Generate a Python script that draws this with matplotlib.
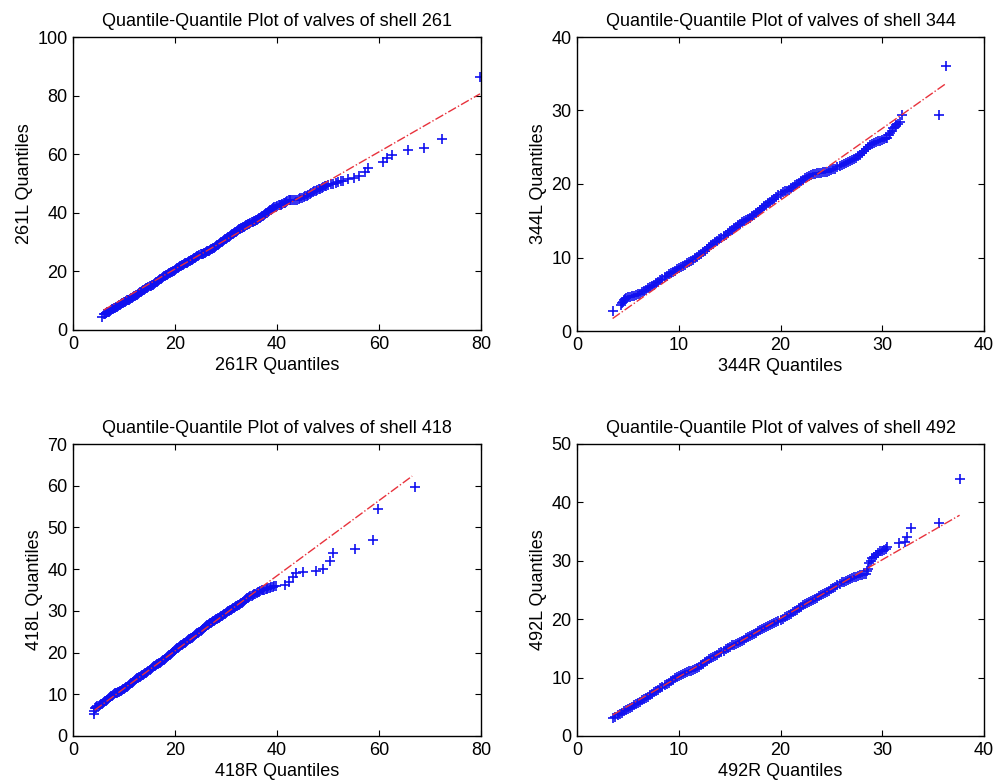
import numpy as np
import matplotlib
matplotlib.use("Agg")
import matplotlib.pyplot as plt

plt.rcParams['font.family'] = ['Liberation Sans', 'DejaVu Sans']

# quantile pairs (R quantile, L quantile), one list per shell

q261 = [(5.6, 4.3), (6.0, 5.3), (6.2, 5.6), (6.4, 5.8), (6.6, 6.0), (6.8, 6.1), (7.0, 6.3),
        (7.2, 6.6), (7.4, 6.8), (7.6, 7.0), (7.8, 7.2), (8.0, 7.4), (8.2, 7.6), (8.4, 7.8),
        (8.6, 8.0), (8.8, 8.2), (9.0, 8.4), (9.2, 8.7), (9.4, 8.9), (9.6, 9.1), (9.8, 9.3),
        (10.0, 9.5), (10.2, 9.7), (10.4, 9.9), (10.6, 10.1), (10.8, 10.2), (11.0, 10.4),
        (11.2, 10.6), (11.4, 10.8), (11.6, 11.0), (11.8, 11.2), (12.0, 11.5), (12.2, 11.7),
        (12.4, 11.9), (12.6, 12.1), (12.8, 12.4), (13.0, 12.6), (13.2, 12.8), (13.4, 13.0),
        (13.6, 13.2), (13.8, 13.5), (14.0, 13.7), (14.2, 14.0), (14.4, 14.2), (14.6, 14.4),
        (14.8, 14.7), (15.0, 14.9), (15.2, 15.1), (15.4, 15.3), (15.6, 15.5), (15.8, 15.8),
        (16.0, 16.0), (16.2, 16.3), (16.4, 16.5), (16.6, 16.8), (16.8, 17.0), (17.0, 17.3),
        (17.2, 17.5), (17.4, 17.8), (17.6, 18.0), (17.8, 18.3), (18.0, 18.5), (18.2, 18.8),
        (18.4, 18.9), (18.6, 19.1), (18.8, 19.3), (19.0, 19.5), (19.2, 19.7), (19.4, 19.9),
        (19.6, 20.1), (19.8, 20.3), (20.0, 20.5), (20.2, 20.8), (20.4, 21.0), (20.6, 21.2),
        (20.8, 21.4), (21.0, 21.7), (21.2, 21.9), (21.4, 22.1), (21.6, 22.3), (21.8, 22.5),
        (22.0, 22.7), (22.2, 22.9), (22.4, 23.0), (22.6, 23.2), (22.8, 23.4), (23.0, 23.6),
        (23.2, 23.8), (23.4, 24.0), (23.6, 24.3), (23.8, 24.5), (24.0, 24.7), (24.2, 25.0),
        (24.4, 25.2), (24.6, 25.4), (24.8, 25.6), (25.0, 25.8), (25.2, 25.9), (25.4, 26.1),
        (25.6, 26.2), (25.8, 26.4), (26.0, 26.6), (26.2, 26.8), (26.4, 26.9), (26.6, 27.1),
        (26.8, 27.3), (27.0, 27.5), (27.2, 27.7), (27.4, 27.9), (27.6, 28.1), (27.8, 28.4),
        (28.0, 28.6), (28.2, 28.9), (28.4, 29.1), (28.6, 29.4), (28.8, 29.6), (29.0, 29.9),
        (29.2, 30.1), (29.4, 30.4), (29.6, 30.6), (29.8, 30.9), (30.0, 31.1), (30.2, 31.4),
        (30.4, 31.6), (30.6, 31.9), (30.8, 32.1), (31.0, 32.4), (31.2, 32.6), (31.4, 32.9),
        (31.6, 33.1), (31.8, 33.4), (32.0, 33.6), (32.2, 33.9), (32.4, 34.1), (32.6, 34.4),
        (32.8, 34.6), (33.0, 34.8), (33.2, 34.9), (33.4, 35.1), (33.6, 35.3), (33.8, 35.5),
        (34.0, 35.7), (34.2, 35.9), (34.4, 36.1), (34.6, 36.3), (34.8, 36.5), (35.0, 36.7),
        (35.2, 36.9), (35.4, 37.1), (35.6, 37.3), (35.8, 37.5), (36.0, 37.7), (36.2, 37.9),
        (36.4, 38.1), (36.6, 38.3), (36.8, 38.5), (37.0, 38.8), (37.2, 39.0), (37.4, 39.3),
        (37.6, 39.5), (37.8, 39.8), (38.0, 40.0), (38.2, 40.3), (38.4, 40.5), (38.6, 40.8),
        (38.8, 41.0), (39.0, 41.3), (39.2, 41.6), (39.5, 41.9), (39.8, 42.1), (40.0, 42.3),
        (40.3, 42.5), (40.5, 42.6), (40.8, 42.8), (41.0, 43.0), (41.3, 43.2), (41.5, 43.4),
        (41.8, 43.7), (42.0, 43.9), (42.3, 44.2), (42.5, 44.4), (42.8, 44.4), (43.2, 44.4),
        (43.6, 44.5), (44.0, 44.5), (44.3, 44.8), (44.6, 45.0), (44.9, 45.2), (45.2, 45.4),
        (45.5, 45.6), (45.8, 45.8), (46.1, 46.0), (46.4, 46.3), (46.7, 46.7), (47.0, 47.0),
        (47.3, 47.3), (47.6, 47.6), (47.9, 47.8), (48.2, 48.0), (48.5, 48.2), (48.8, 48.5),
        (49.1, 48.8), (49.4, 49.0), (49.7, 49.2), (50.0, 49.5), (50.5, 49.8), (51.0, 50.0),
        (51.5, 50.2), (52.0, 50.5), (52.5, 50.7), (53.0, 51.0), (54.0, 51.5), (55.0, 52.0),
        (56.0, 52.5), (57.2, 53.8), (57.9, 55.2), (60.8, 57.4), (61.5, 58.6), (62.5, 59.6),
        (65.7, 61.5), (68.8, 62.1), (72.4, 65.1), (79.8, 86.3)]
ref261_x = [6.0, 79.8]
ref261_y = [6.8, 80.6]

q344 = [(3.5, 2.7), (4.3, 3.6), (4.4, 3.8), (4.5, 4.0), (4.6, 4.2), (4.7, 4.4), (4.85, 4.5),
        (5.0, 4.6), (5.2, 4.65), (5.4, 4.7), (5.6, 4.8), (5.8, 4.9), (6.0, 5.0), (6.2, 5.1),
        (6.4, 5.25), (6.6, 5.4), (6.8, 5.6), (7.0, 5.8), (7.2, 5.95), (7.4, 6.1), (7.6, 6.3),
        (7.8, 6.5), (8.0, 6.7), (8.2, 6.9), (8.4, 7.1), (8.6, 7.3), (8.8, 7.5), (9.0, 7.7),
        (9.2, 7.85), (9.4, 8.0), (9.6, 8.2), (9.8, 8.4), (10.0, 8.55), (10.2, 8.7), (10.4, 8.85),
        (10.6, 9.0), (10.8, 9.2), (11.0, 9.4), (11.2, 9.55), (11.4, 9.7), (11.6, 9.9),
        (11.8, 10.1), (12.0, 10.3), (12.2, 10.5), (12.4, 10.7), (12.6, 10.9), (12.8, 11.15),
        (13.0, 11.4), (13.2, 11.65), (13.4, 11.9), (13.6, 12.1), (13.8, 12.3), (14.0, 12.5),
        (14.2, 12.7), (14.4, 12.9), (14.6, 13.1), (14.8, 13.35), (15.0, 13.6), (15.2, 13.8),
        (15.4, 14.0), (15.6, 14.2), (15.8, 14.4), (16.0, 14.6), (16.2, 14.8), (16.4, 14.95),
        (16.6, 15.1), (16.8, 15.25), (17.0, 15.4), (17.2, 15.6), (17.4, 15.8), (17.6, 16.0),
        (17.8, 16.2), (18.0, 16.45), (18.2, 16.7), (18.4, 16.95), (18.6, 17.2), (18.8, 17.4),
        (19.0, 17.6), (19.2, 17.8), (19.4, 18.0), (19.6, 18.25), (19.8, 18.5), (20.0, 18.7),
        (20.2, 18.9), (20.4, 19.0), (20.6, 19.1), (20.8, 19.25), (21.0, 19.4), (21.2, 19.6),
        (21.4, 19.8), (21.6, 20.0), (21.8, 20.2), (22.0, 20.4), (22.2, 20.6), (22.4, 20.8),
        (22.6, 21.0), (22.8, 21.1), (23.0, 21.2), (23.2, 21.3), (23.4, 21.4), (23.6, 21.45),
        (23.8, 21.5), (24.0, 21.55), (24.2, 21.6), (24.4, 21.65), (24.6, 21.7), (24.8, 21.8),
        (25.0, 21.9), (25.2, 22.0), (25.4, 22.1), (25.6, 22.25), (25.8, 22.4), (26.0, 22.55),
        (26.2, 22.7), (26.4, 22.85), (26.6, 23.0), (26.8, 23.15), (27.0, 23.3), (27.2, 23.45),
        (27.4, 23.6), (27.6, 23.8), (27.8, 24.0), (28.0, 24.25), (28.2, 24.5), (28.4, 24.75),
        (28.6, 25.0), (28.8, 25.25), (29.0, 25.5), (29.2, 25.6), (29.4, 25.7), (29.6, 25.8),
        (29.8, 25.9), (30.0, 26.0), (30.2, 26.1), (30.35, 26.2), (30.5, 26.3), (30.65, 26.6),
        (30.8, 26.9), (30.95, 27.2), (31.1, 27.6), (31.25, 27.8), (31.4, 28.0), (31.55, 28.2),
        (31.7, 28.5), (31.9, 29.4), (35.6, 29.4), (36.3, 36.1)]
ref344_x = [3.5, 36.3]
ref344_y = [1.7, 33.7]

q418 = [(4.1, 5.3), (4.2, 6.0), (4.3, 6.6), (4.45, 6.8), (4.6, 7.0), (4.8, 7.1), (5.0, 7.2),
        (5.2, 7.4), (5.4, 7.6), (5.6, 7.75), (5.8, 7.9), (6.0, 8.1), (6.2, 8.3), (6.4, 8.5),
        (6.6, 8.7), (6.8, 8.9), (7.0, 9.1), (7.2, 9.3), (7.4, 9.5), (7.6, 9.7), (7.8, 9.9),
        (8.0, 10.05), (8.2, 10.2), (8.4, 10.3), (8.6, 10.4), (8.8, 10.5), (9.0, 10.6),
        (9.2, 10.75), (9.4, 10.9), (9.6, 11.05), (9.8, 11.2), (10.0, 11.35), (10.2, 11.5),
        (10.4, 11.65), (10.6, 11.8), (10.8, 12.0), (11.0, 12.2), (11.2, 12.4), (11.4, 12.6),
        (11.6, 12.8), (11.8, 13.0), (12.0, 13.2), (12.2, 13.4), (12.4, 13.6), (12.6, 13.8),
        (12.8, 13.95), (13.0, 14.1), (13.2, 14.25), (13.4, 14.4), (13.6, 14.55), (13.8, 14.7),
        (14.0, 14.85), (14.2, 15.0), (14.4, 15.2), (14.6, 15.4), (14.8, 15.65), (15.0, 15.9),
        (15.2, 16.1), (15.4, 16.3), (15.6, 16.5), (15.8, 16.7), (16.0, 16.85), (16.2, 17.0),
        (16.4, 17.15), (16.6, 17.3), (16.8, 17.45), (17.0, 17.6), (17.2, 17.75), (17.4, 17.9),
        (17.6, 18.1), (17.8, 18.3), (18.0, 18.5), (18.2, 18.7), (18.4, 18.9), (18.6, 19.1),
        (18.8, 19.3), (19.0, 19.5), (19.2, 19.75), (19.4, 20.0), (19.6, 20.2), (19.8, 20.4),
        (20.0, 20.6), (20.2, 20.8), (20.4, 21.0), (20.6, 21.2), (20.8, 21.35), (21.0, 21.5),
        (21.2, 21.7), (21.4, 21.9), (21.6, 22.05), (21.8, 22.2), (22.0, 22.4), (22.2, 22.6),
        (22.4, 22.8), (22.6, 23.0), (22.8, 23.15), (23.0, 23.3), (23.2, 23.45), (23.4, 23.6),
        (23.6, 23.8), (23.8, 24.0), (24.0, 24.2), (24.2, 24.4), (24.4, 24.6), (24.6, 24.8),
        (24.8, 25.0), (25.0, 25.2), (25.2, 25.4), (25.4, 25.6), (25.6, 25.85), (25.8, 26.1),
        (26.0, 26.3), (26.2, 26.5), (26.4, 26.65), (26.6, 26.8), (26.8, 27.0), (27.0, 27.2),
        (27.2, 27.35), (27.4, 27.5), (27.6, 27.65), (27.8, 27.8), (28.0, 27.95), (28.2, 28.1),
        (28.4, 28.25), (28.6, 28.4), (28.8, 28.55), (29.0, 28.7), (29.2, 28.85), (29.4, 29.0),
        (29.6, 29.15), (29.8, 29.3), (30.0, 29.5), (30.2, 29.7), (30.4, 29.85), (30.6, 30.0),
        (30.8, 30.15), (31.0, 30.3), (31.2, 30.45), (31.4, 30.6), (31.6, 30.75), (31.8, 30.9),
        (32.0, 31.05), (32.2, 31.2), (32.4, 31.35), (32.6, 31.5), (32.8, 31.65), (33.0, 31.8),
        (33.2, 32.0), (33.4, 32.2), (33.6, 32.4), (33.8, 32.6), (34.0, 32.8), (34.2, 33.0),
        (34.4, 33.15), (34.6, 33.3), (34.8, 33.45), (35.0, 33.6), (35.25, 33.8), (35.5, 34.0),
        (35.75, 34.15), (36.0, 34.3), (36.25, 34.45), (36.5, 34.6), (36.75, 34.75), (37.0, 34.9),
        (37.25, 35.0), (37.5, 35.1), (37.75, 35.2), (38.0, 35.3), (38.3, 35.4), (38.6, 35.5),
        (38.9, 35.65), (39.2, 35.8), (39.5, 35.9), (39.8, 36.0), (41.5, 36.2), (42.4, 37.0),
        (43.2, 38.2), (43.8, 39.0), (45.0, 39.2), (47.6, 39.6), (49.1, 40.0), (50.4, 42.0),
        (50.9, 43.8), (55.3, 44.9), (58.9, 47.0), (59.8, 54.4), (67.0, 59.6)]
ref418_x = [4.25, 66.5]
ref418_y = [6.2, 62.3]

q492 = [(3.5, 3.0), (3.75, 3.3), (4.0, 3.6), (4.2, 3.8), (4.4, 4.0), (4.6, 4.2), (4.8, 4.4),
        (5.0, 4.6), (5.2, 4.8), (5.4, 5.05), (5.6, 5.3), (5.8, 5.5), (6.0, 5.7), (6.2, 5.9),
        (6.4, 6.1), (6.6, 6.3), (6.8, 6.5), (7.0, 6.75), (7.2, 7.0), (7.4, 7.25), (7.6, 7.5),
        (7.8, 7.7), (8.0, 7.9), (8.2, 8.15), (8.4, 8.4), (8.6, 8.65), (8.8, 8.9), (9.0, 9.15),
        (9.2, 9.4), (9.4, 9.65), (9.6, 9.9), (9.8, 10.1), (10.0, 10.3), (10.2, 10.45),
        (10.4, 10.6), (10.6, 10.75), (10.8, 10.9), (11.0, 11.05), (11.2, 11.2), (11.4, 11.35),
        (11.6, 11.5), (11.8, 11.7), (12.0, 11.9), (12.2, 12.15), (12.4, 12.4), (12.6, 12.65),
        (12.8, 12.9), (13.0, 13.1), (13.2, 13.3), (13.4, 13.5), (13.6, 13.7), (13.8, 13.95),
        (14.0, 14.2), (14.2, 14.4), (14.4, 14.6), (14.6, 14.85), (14.8, 15.1), (15.0, 15.3),
        (15.2, 15.5), (15.4, 15.65), (15.6, 15.8), (15.8, 15.95), (16.0, 16.1), (16.2, 16.3),
        (16.4, 16.5), (16.6, 16.7), (16.8, 16.9), (17.0, 17.1), (17.2, 17.3), (17.4, 17.5),
        (17.6, 17.7), (17.8, 17.9), (18.0, 18.1), (18.2, 18.3), (18.4, 18.5), (18.6, 18.7),
        (18.8, 18.9), (19.0, 19.05), (19.2, 19.2), (19.4, 19.4), (19.6, 19.6), (19.8, 19.75),
        (20.0, 19.9), (20.2, 20.1), (20.4, 20.3), (20.6, 20.5), (20.8, 20.7), (21.0, 20.95),
        (21.2, 21.2), (21.4, 21.4), (21.6, 21.6), (21.8, 21.85), (22.0, 22.1), (22.2, 22.35),
        (22.4, 22.6), (22.6, 22.8), (22.8, 23.0), (23.0, 23.15), (23.2, 23.3), (23.4, 23.5),
        (23.6, 23.7), (23.8, 23.9), (24.0, 24.1), (24.2, 24.3), (24.4, 24.5), (24.6, 24.7),
        (24.8, 24.9), (25.0, 25.1), (25.2, 25.3), (25.4, 25.55), (25.6, 25.8), (25.8, 26.05),
        (26.0, 26.3), (26.2, 26.45), (26.4, 26.6), (26.6, 26.75), (26.8, 26.9), (27.0, 27.05),
        (27.2, 27.2), (27.4, 27.3), (27.6, 27.4), (27.8, 27.5), (28.0, 27.6), (28.2, 27.7),
        (28.4, 27.8), (28.5, 28.2), (28.6, 28.6), (28.7, 29.6), (28.85, 30.0), (29.0, 30.4),
        (29.2, 30.7), (29.4, 31.0), (29.6, 31.3), (29.8, 31.6), (30.0, 31.75), (30.2, 31.9),
        (30.35, 32.1), (30.5, 32.3), (31.6, 33.0), (32.2, 33.3), (32.4, 34.1), (32.8, 35.7),
        (35.6, 36.4), (37.6, 44.0)]
ref492_x = [3.5, 37.6]
ref492_y = [3.6, 37.8]

shells = ["261", "344", "418", "492"]
quantiles = [q261, q344, q418, q492]
ref_lines = [(ref261_x, ref261_y), (ref344_x, ref344_y), (ref418_x, ref418_y), (ref492_x, ref492_y)]
x_limits = [80, 40, 80, 40]
y_limits = [100, 40, 70, 50]
x_ticks = [[0, 20, 40, 60, 80], [0, 10, 20, 30, 40], [0, 20, 40, 60, 80], [0, 10, 20, 30, 40]]
y_ticks = [[0, 20, 40, 60, 80, 100], [0, 10, 20, 30, 40],
           [0, 10, 20, 30, 40, 50, 60, 70], [0, 10, 20, 30, 40, 50]]

# axes boxes in pixels: left, top, right, bottom
boxes = [[73, 37, 481, 330], [577, 37, 984, 331], [73, 444, 481, 736], [577, 444, 984, 736]]

W, H = 1005, 781
fig = plt.figure(figsize=(W / 100, H / 100), dpi=100)

for i, name in enumerate(shells):
    l, t, r, b = boxes[i]
    ax = fig.add_axes([l / W, 1 - b / H, (r - l) / W, (b - t) / H])
    q = np.array(quantiles[i])
    rx, ry = ref_lines[i]
    ax.plot(rx, ry, color="#e8323c", linestyle="-.", linewidth=1.0, zorder=3)
    ax.plot(q[:, 0], q[:, 1], linestyle="none", marker="+", color="#1010f0",
            markersize=7, markeredgewidth=1.2, zorder=2)
    ax.set_xlim(0, x_limits[i])
    ax.set_ylim(0, y_limits[i])
    ax.set_xticks(x_ticks[i])
    ax.set_yticks(y_ticks[i])
    ax.tick_params(direction="in", length=4, width=0.8, top=True, right=True,
                   labelsize=13, pad=4)
    for s in ax.spines.values():
        s.set_linewidth(1.0)
    ax.set_title("Quantile-Quantile Plot of valves of shell " + name, fontsize=13, pad=8)
    ax.set_xlabel(name + "R Quantiles", fontsize=13, labelpad=3)
    ax.set_ylabel(name + "L Quantiles", fontsize=13, labelpad=3)

plt.savefig("out.png", dpi=100)
